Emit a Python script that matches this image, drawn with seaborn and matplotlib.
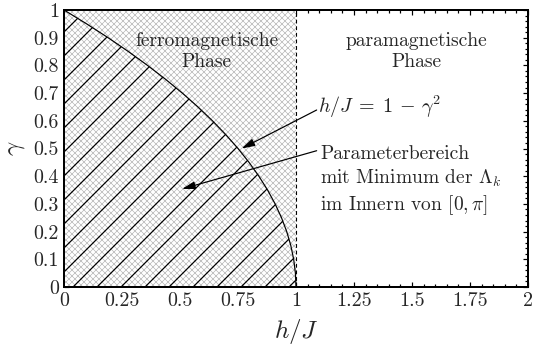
import matplotlib
matplotlib.use("Agg")
import matplotlib.pyplot as plt
import seaborn as sns
import pandas as pd

# ---- data ----
gamma = [0.0, 0.05, 0.1, 0.15, 0.2, 0.25, 0.3, 0.35, 0.4, 0.45, 0.5,
         0.55, 0.6, 0.65, 0.7, 0.75, 0.8, 0.85, 0.9, 0.95, 1.0]
h_boundary = [1.0, 0.9975, 0.99, 0.9775, 0.96, 0.9375, 0.91, 0.8775, 0.84,
              0.7975, 0.75, 0.6975, 0.64, 0.5775, 0.51, 0.4375, 0.36, 0.2775,
              0.19, 0.0975, 0.0]
h_critical = 1.0
x_ticks = [0, 0.25, 0.5, 0.75, 1, 1.25, 1.5, 1.75, 2]
x_ticklabels = ["0", "0.25", "0.5", "0.75", "1", "1.25", "1.5", "1.75", "2"]
y_ticks = [0, 0.1, 0.2, 0.3, 0.4, 0.5, 0.6, 0.7, 0.8, 0.9, 1]
y_ticklabels = ["0", "0.1", "0.2", "0.3", "0.4", "0.5", "0.6", "0.7", "0.8", "0.9", "1"]

df = pd.DataFrame({"h": h_boundary, "gamma": gamma})

sns.set_style("ticks")
plt.rcParams["font.family"] = ["serif"]
plt.rcParams["font.serif"] = ["cmr10", "DejaVu Serif"]
plt.rcParams["mathtext.fontset"] = "cm"
plt.rcParams["axes.formatter.use_mathtext"] = True

DPI = 72  # 1 pt == 1 px; hatch tile == 72 px
fig = plt.figure(figsize=(534 / DPI, 349 / DPI), dpi=DPI)
ax = fig.add_axes([64 / 534, 1 - 287 / 349, 464 / 534, 277 / 349])

# cross-hatched ferromagnetic region
with plt.rc_context({"hatch.linewidth": 0.6}):
    c1 = ax.fill_betweenx([0, 1], 0, h_critical, facecolor="white",
                          edgecolor="#b0b0b0", hatch="xxxx", linewidth=0, zorder=1)
    if hasattr(c1, "set_hatch_linewidth"):
        c1.set_hatch_linewidth(0.6)

# diagonal hatched region under the curve
with plt.rc_context({"hatch.linewidth": 1.2}):
    c2 = ax.fill_betweenx(df["gamma"], 0, df["h"], facecolor="none",
                          edgecolor="black", hatch="/", linewidth=0, zorder=2)
    if hasattr(c2, "set_hatch_linewidth"):
        c2.set_hatch_linewidth(1.2)

sns.lineplot(data=df, x="h", y="gamma", sort=False, estimator=None,
             color="black", linewidth=1.2, ax=ax, zorder=3)
ax.axvline(h_critical, color="black", linewidth=1.1,
           linestyle=(0, (3.5, 2.5)), zorder=3)

ax.set_xlim(0, 2)
ax.set_ylim(0, 1)
ax.set_xticks(x_ticks)
ax.set_xticklabels(x_ticklabels)
ax.set_yticks(y_ticks)
ax.set_yticklabels(y_ticklabels)
ax.set_xticks([i * 0.05 for i in range(41)], minor=True)
ax.set_yticks([i * 0.02 for i in range(51)], minor=True)
ax.tick_params(which="both", direction="in", top=True, right=True,
               labelsize=20, color="black", pad=5)
ax.tick_params(which="major", length=5.2, width=1.2)
ax.tick_params(which="minor", length=2.8, width=1.2)
for s in ax.spines.values():
    s.set_linewidth(2.0)
    s.set_color("black")
    s.set_zorder(5)

ax.set_xlabel("$h/J$", fontsize=25)
ax.set_ylabel(r"$\gamma$", fontsize=25)
ax.xaxis.set_label_coords(0.5, -0.11)
ax.yaxis.set_label_coords(-0.08, 0.5)

ax.text(0.615, 0.85, "ferromagnetische\nPhase", ha="center", va="center",
        fontsize=19.5, linespacing=1.2, zorder=4)
ax.text(1.52, 0.85, "paramagnetische\nPhase", ha="center", va="center",
        fontsize=19.5, linespacing=1.2, zorder=4)
ax.text(1.095, 0.65, r"$h/J\;=\;1\,-\,\gamma^2$", ha="left", va="center",
        fontsize=20, zorder=4)
ax.text(1.103, 0.383, "Parameterbereich\nmit Minimum der $\\Lambda_k$\nim Innern von $[0,\\pi]$",
        ha="left", va="center", fontsize=19.5, linespacing=1.28, zorder=4)

arrow_kw = dict(arrowstyle="-|>,head_length=0.55,head_width=0.16", color="black",
                lw=1.2, shrinkA=0, shrinkB=0, mutation_scale=20)
ax.annotate("", xy=(0.766, 0.50), xytext=(1.089, 0.639),
            arrowprops=arrow_kw, zorder=4)
ax.annotate("", xy=(0.509, 0.354), xytext=(1.089, 0.492),
            arrowprops=arrow_kw, zorder=4)

fig.savefig("out.png", dpi=DPI)
